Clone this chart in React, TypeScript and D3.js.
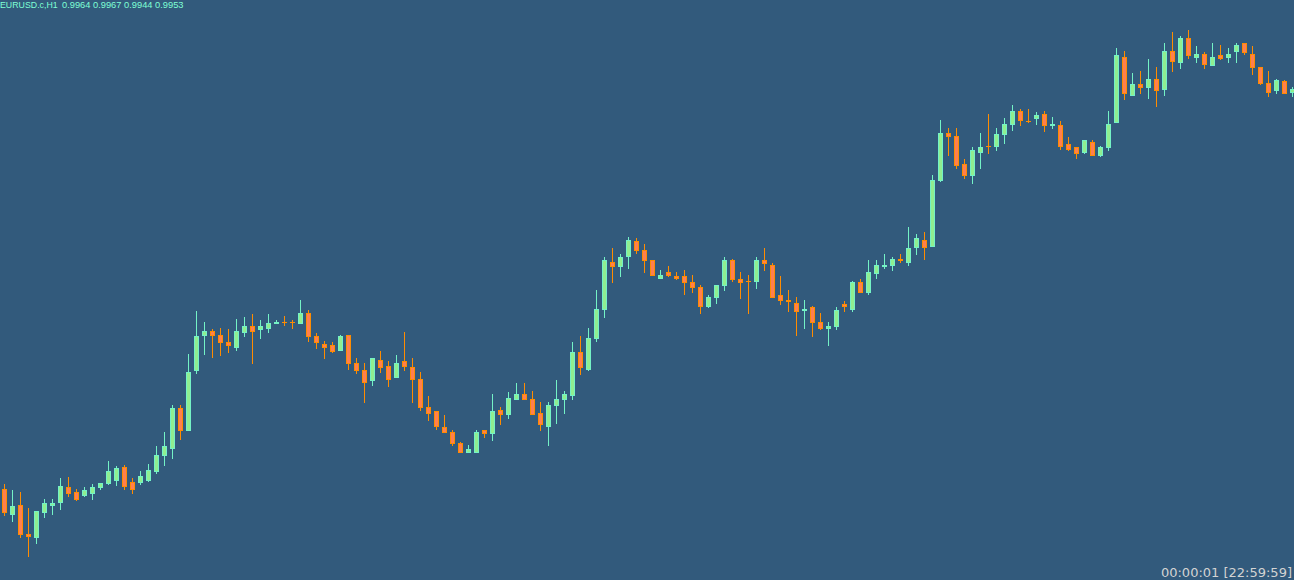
import React from "react";
import * as d3 from "d3";

const symbolLabel = "EURUSD.c,H1";
const priceLabel = "0.9964 0.9967 0.9944 0.9953";
const timerLabel = "00:00:01 [22:59:59]";

const OPEN = [
  0.97555, 0.97425, 0.97475, 0.9733, 0.9731, 0.97435, 0.9747, 0.97485, 0.97565, 0.9754,
  0.9752, 0.9753, 0.9756, 0.9758, 0.97595, 0.97665, 0.9759, 0.97585, 0.97595, 0.9764,
  0.9772, 0.97755, 0.9796, 0.97845, 0.98145, 0.9832, 0.98345, 0.98325, 0.9829, 0.9826,
  0.98335, 0.9837, 0.9835, 0.98355, 0.9838, 0.9839, 0.9839, 0.9838, 0.98435, 0.9832,
  0.9828, 0.98275, 0.98245, 0.98325, 0.98185, 0.9815, 0.98095, 0.982, 0.9817, 0.9811,
  0.98195, 0.98165, 0.98105, 0.97965, 0.97945, 0.97865, 0.9784, 0.97785, 0.97735, 0.97735,
  0.9785, 0.9783, 0.9795, 0.97925, 0.98, 0.9803, 0.98005, 0.97935, 0.97865, 0.9797,
  0.98, 0.9802, 0.9824, 0.9815, 0.98305, 0.9845, 0.9869, 0.98665, 0.98715, 0.98795,
  0.9875, 0.987, 0.98605, 0.9864, 0.9862, 0.9862, 0.9859, 0.98565, 0.98465, 0.9851,
  0.9857, 0.987, 0.98605, 0.98595, 0.9859, 0.987, 0.98675, 0.98525, 0.985, 0.98485,
  0.98445, 0.98465, 0.9839, 0.98355, 0.98365, 0.9848, 0.9845, 0.9859, 0.98535, 0.9863,
  0.98665, 0.9867, 0.98705, 0.98685, 0.9876, 0.988, 0.98765, 0.99095, 0.99335, 0.9932,
  0.9918, 0.9912, 0.99235, 0.9927, 0.99265, 0.99325, 0.99375, 0.99445, 0.99395, 0.99405,
  0.9943, 0.9937, 0.99375, 0.9928, 0.99265, 0.99235, 0.9929, 0.9922, 0.9926, 0.99385,
  0.99715, 0.9952, 0.9958, 0.9956, 0.99605, 0.9955, 0.99745, 0.99685, 0.9981, 0.9971,
  0.9973, 0.9967, 0.99725, 0.9971, 0.9974, 0.99785, 0.9973, 0.99665, 0.99585, 0.99545,
  0.99595, 0.99535,
];

const HIGH = [
  0.9758, 0.9755, 0.9754, 0.9746, 0.97445, 0.97505, 0.97505, 0.9761, 0.97615, 0.97555,
  0.97565, 0.9758, 0.97585, 0.97695, 0.9767, 0.97675, 0.9761, 0.97645, 0.9768, 0.9777,
  0.9784, 0.97975, 0.97975, 0.9823, 0.98445, 0.9839, 0.98355, 0.9836, 0.98355, 0.98405,
  0.98415, 0.9843, 0.984, 0.9843, 0.984, 0.9842, 0.984, 0.985, 0.9845, 0.98335,
  0.98295, 0.9829, 0.98325, 0.98325, 0.9821, 0.98185, 0.9821, 0.98245, 0.98195, 0.98225,
  0.9834, 0.9821, 0.9814, 0.9802, 0.97945, 0.97925, 0.9785, 0.9779, 0.97775, 0.9785,
  0.9785, 0.9803, 0.97965, 0.9804, 0.98085, 0.98085, 0.98045, 0.9799, 0.9799, 0.981,
  0.98045, 0.9829, 0.9832, 0.9836, 0.9855, 0.98715, 0.9876, 0.9873, 0.98815, 0.9881,
  0.9878, 0.987, 0.9865, 0.9867, 0.9864, 0.9865, 0.98625, 0.98575, 0.98525, 0.98575,
  0.98715, 0.98705, 0.9864, 0.98625, 0.98715, 0.9876, 0.98685, 0.9862, 0.9855, 0.98515,
  0.985, 0.9847, 0.98435, 0.9839, 0.98465, 0.98495, 0.98595, 0.98605, 0.987, 0.987,
  0.9873, 0.98715, 0.9873, 0.98865, 0.9883, 0.9884, 0.99125, 0.994, 0.9936, 0.9936,
  0.99205, 0.99265, 0.99335, 0.9943, 0.9936, 0.9941, 0.99475, 0.99455, 0.99455, 0.9944,
  0.99445, 0.99415, 0.99395, 0.99315, 0.99265, 0.993, 0.993, 0.9927, 0.99445, 0.9976,
  0.99745, 0.99635, 0.99645, 0.99705, 0.99665, 0.99785, 0.9984, 0.9982, 0.9985, 0.9977,
  0.9974, 0.99785, 0.99775, 0.9976, 0.99785, 0.99785, 0.9977, 0.99665, 0.99645, 0.99605,
  0.996, 0.99565,
];

const LOW = [
  0.9742, 0.9739, 0.9731, 0.97215, 0.9728, 0.9741, 0.97425, 0.9745, 0.97515, 0.97495,
  0.97515, 0.975, 0.9755, 0.97575, 0.9757, 0.9755, 0.9753, 0.97575, 0.9759, 0.9763,
  0.9767, 0.97705, 0.978, 0.97845, 0.9813, 0.98225, 0.9821, 0.9822, 0.98235, 0.98245,
  0.98315, 0.9818, 0.98305, 0.98335, 0.9838, 0.9837, 0.98355, 0.9838, 0.9829, 0.98255,
  0.98205, 0.98235, 0.98245, 0.9815, 0.9813, 0.97985, 0.9807, 0.98135, 0.98065, 0.9811,
  0.98145, 0.97985, 0.97945, 0.97895, 0.9785, 0.97835, 0.9777, 0.97735, 0.97735, 0.97735,
  0.9781, 0.97795, 0.97875, 0.97905, 0.98, 0.98, 0.97925, 0.97845, 0.9777, 0.9788,
  0.9793, 0.98, 0.98125, 0.98145, 0.9829, 0.9841, 0.98585, 0.98615, 0.98655, 0.9873,
  0.98635, 0.9862, 0.98605, 0.98615, 0.986, 0.98525, 0.98535, 0.9843, 0.9846, 0.9848,
  0.98545, 0.9859, 0.98505, 0.9843, 0.98555, 0.98645, 0.9851, 0.98475, 0.9844, 0.9832,
  0.98355, 0.98315, 0.9835, 0.9827, 0.9835, 0.9844, 0.9844, 0.98535, 0.98525, 0.98605,
  0.98655, 0.98645, 0.98685, 0.9867, 0.98725, 0.987, 0.98765, 0.9909, 0.9922, 0.99155,
  0.99105, 0.9908, 0.99155, 0.9923, 0.99245, 0.9928, 0.99345, 0.9937, 0.99385, 0.99375,
  0.9934, 0.99355, 0.9925, 0.99245, 0.99205, 0.9923, 0.9922, 0.99215, 0.99245, 0.99385,
  0.995, 0.9952, 0.9953, 0.99505, 0.99465, 0.9952, 0.9964, 0.99655, 0.99705, 0.99685,
  0.99655, 0.9967, 0.997, 0.99685, 0.99685, 0.99725, 0.99625, 0.99575, 0.99515, 0.9953,
  0.9953, 0.99515,
];

const CLOSE = [
  0.97435, 0.9747, 0.97325, 0.97315, 0.97445, 0.97485, 0.97485, 0.9757, 0.9753, 0.975,
  0.9755, 0.97565, 0.97585, 0.97645, 0.9766, 0.97565, 0.9755, 0.9762, 0.9765, 0.97725,
  0.9777, 0.9796, 0.97845, 0.9814, 0.9832, 0.98345, 0.9832, 0.98285, 0.9827, 0.98345,
  0.9837, 0.9834, 0.9837, 0.98385, 0.9839, 0.98385, 0.98385, 0.98435, 0.98315, 0.98285,
  0.9826, 0.9824, 0.9832, 0.9818, 0.98145, 0.98085, 0.9821, 0.9816, 0.981, 0.98185,
  0.98165, 0.981, 0.9796, 0.9793, 0.97865, 0.97835, 0.9778, 0.97735, 0.97755, 0.9784,
  0.9783, 0.97945, 0.97925, 0.9801, 0.9803, 0.98, 0.97925, 0.97875, 0.97975, 0.98005,
  0.9803, 0.9824, 0.9816, 0.9831, 0.98455, 0.987, 0.98665, 0.98715, 0.988, 0.98745,
  0.98695, 0.9862, 0.98625, 0.9862, 0.98605, 0.98585, 0.9856, 0.98465, 0.98515, 0.98575,
  0.987, 0.986, 0.98585, 0.9859, 0.987, 0.9868, 0.9851, 0.98495, 0.9849, 0.9844,
  0.98455, 0.98385, 0.98355, 0.9837, 0.9845, 0.98465, 0.9859, 0.98535, 0.9864, 0.98675,
  0.98675, 0.98705, 0.98695, 0.9876, 0.9881, 0.9876, 0.991, 0.99335, 0.99315, 0.9917,
  0.9912, 0.9925, 0.99265, 0.99265, 0.9933, 0.9938, 0.99445, 0.99395, 0.9939, 0.99425,
  0.9937, 0.9938, 0.99265, 0.9925, 0.9923, 0.993, 0.9922, 0.99265, 0.9938, 0.99725,
  0.9953, 0.9958, 0.9956, 0.99605, 0.99545, 0.99745, 0.9969, 0.9981, 0.9972, 0.9973,
  0.99675, 0.99715, 0.99705, 0.9973, 0.99775, 0.99735, 0.9966, 0.9958, 0.99535, 0.996,
  0.9953, 0.99555,
];

const W = 1294;
const H = 580;
const BG = "#325A7C";
const BULL_LINE = "#74F2C6";
const BULL_FILL = "#90EE90";
const BEAR_LINE = "#FF8C00";
const BEAR_FILL = "#FF7F50";

export default function App() {
  const n = OPEN.length;
  const x = d3.scaleLinear().domain([0, n - 1]).range([4, 4 + 8 * (n - 1)]);
  const y = d3.scaleLinear().domain([0.971, 1.0]).range([H, 0]);

  const candles = d3.range(n).map((i) => {
    const o = OPEN[i], c = CLOSE[i];
    const hi = Math.max(HIGH[i], o, c);
    const lo = Math.min(LOW[i], o, c);
    const bull = c >= o;
    const cx = Math.round(x(i));
    const top = Math.round(y(Math.max(o, c)));
    const bot = Math.round(y(Math.min(o, c)));
    const yh = Math.round(y(hi));
    const yl = Math.round(y(lo));
    const line = bull ? BULL_LINE : BEAR_LINE;
    const fill = bull ? BULL_FILL : BEAR_FILL;
    const h = bot - top;
    return (
      <g key={i}>
        <rect x={cx} y={yh} width={1} height={Math.max(1, yl - yh)} fill={line} />
        {h <= 2 ? (
          <rect x={cx - 2} y={top} width={5} height={Math.max(1, h)} fill={line} />
        ) : (
          <rect
            x={cx - 2 + 0.5}
            y={top + 0.5}
            width={4}
            height={h - 1}
            fill={fill}
            stroke={line}
            strokeWidth={1}
          />
        )}
      </g>
    );
  });

  return (
    <svg
      width={W}
      height={H}
      style={{ position: "fixed", left: 0, top: 0, display: "block" }}
      shapeRendering="crispEdges"
    >
      <rect x={0} y={0} width={W} height={H} fill={BG} />
      {candles}
      <text
        x={0}
        y={7.5}
        fontFamily="'Liberation Sans', Arial, sans-serif"
        fontSize={8.8}
        fill="#7FFFD4"
      >
        {symbolLabel}
      </text>
      <text
        x={62}
        y={7.5}
        fontFamily="'Liberation Sans', Arial, sans-serif"
        fontSize={9.3}
        fill="#7FFFD4"
      >
        {priceLabel}
      </text>
      <text
        x={1292}
        y={577}
        textAnchor="end"
        fontFamily="'DejaVu Sans', 'Liberation Sans', sans-serif"
        fontSize={13}
        fill="#D3D3D3"
      >
        {timerLabel}
      </text>
    </svg>
  );
}
